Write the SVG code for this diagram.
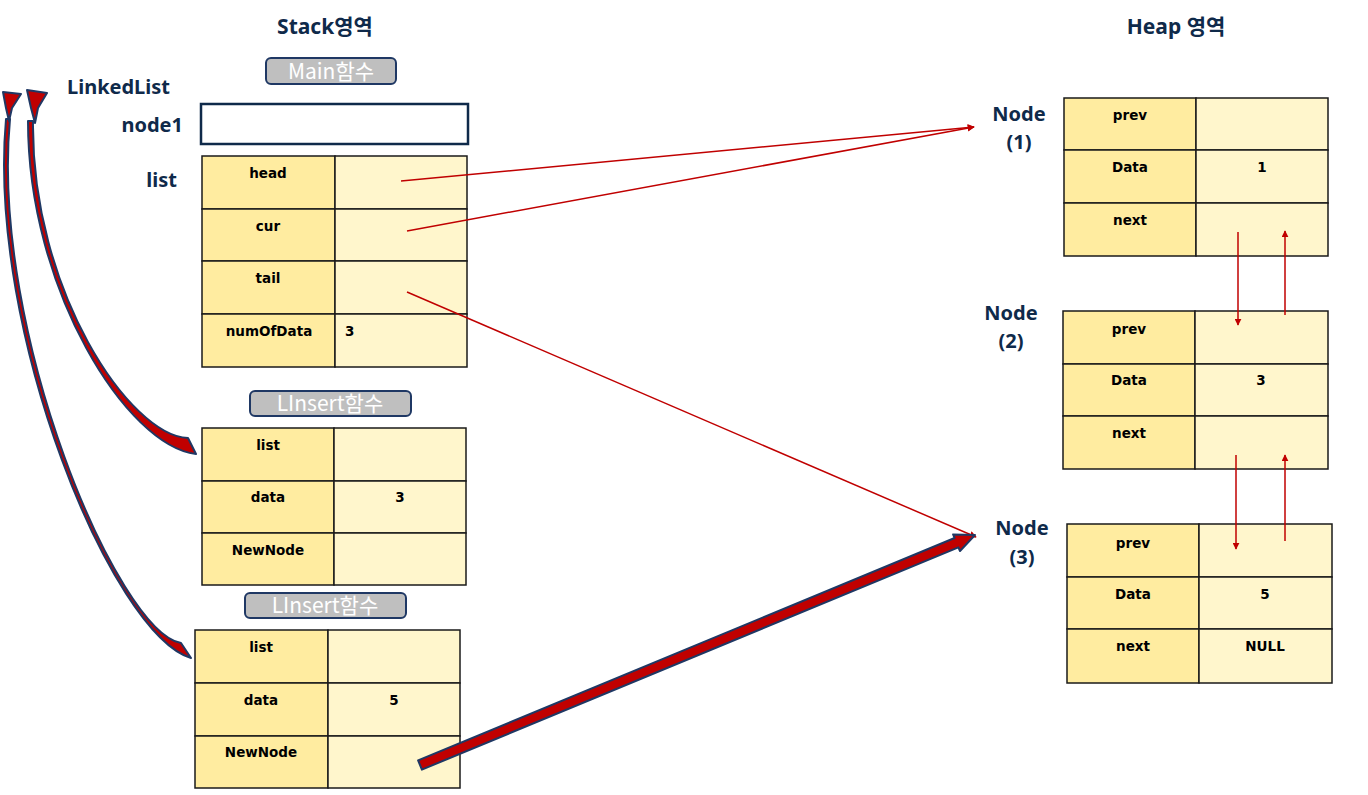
<svg xmlns="http://www.w3.org/2000/svg" width="1368" height="795" viewBox="0 0 1368 795">
<defs>
<style>
.hd{font-family:"Noto Sans","Noto Sans CJK KR",sans-serif;font-weight:bold;font-size:20px;fill:#0f2a4a}
.hh{font-size:21px}
.fn{font-family:"Noto Sans CJK KR","Noto Sans",sans-serif;font-size:21px;fill:#ffffff;text-anchor:middle}
.pill{fill:#bfbfbf;stroke:#1f3864;stroke-width:2}
.k{fill:#ffeca0;stroke:#1a1a1a;stroke-width:1.5}
.v{fill:#fff6cc;stroke:#1a1a1a;stroke-width:1.5}
.t{font-family:"DejaVu Sans",sans-serif;font-weight:bold;font-size:13.5px;fill:#000;text-anchor:middle}
.tl{font-family:"DejaVu Sans",sans-serif;font-weight:bold;font-size:13.5px;fill:#000}
.ln{stroke:#c00000;stroke-width:1.5;fill:none;marker-end:url(#ah)}
.blk{fill:#c00000;stroke:#1f3864;stroke-width:2;stroke-linejoin:round}
</style>
<marker id="ah" viewBox="0 0 10 10" refX="9" refY="5" markerWidth="7" markerHeight="7" orient="auto" markerUnits="userSpaceOnUse">
<path d="M0,0 L10,5 L0,10 Z" fill="#c00000"/>
</marker>
</defs>
<rect width="1368" height="795" fill="#ffffff"/>

<g id="headers">
<text class="hd hh" x="325" y="34" text-anchor="middle">Stack영역</text>
<text class="hd hh" x="1176" y="34" text-anchor="middle">Heap 영역</text>
<text class="hd" x="170" y="94" text-anchor="end">LinkedList</text>
<text class="hd" x="183" y="132" text-anchor="end">node1</text>
<text class="hd" x="177" y="187" text-anchor="end">list</text>
</g>

<g id="main-label">
<rect class="pill" x="266" y="58" width="130" height="26" rx="5"/>
<text class="fn" x="331" y="79">Main함수</text>
</g>

<g id="node1-box">
<rect x="201" y="104" width="267" height="40" fill="#ffffff" stroke="#0f2a4a" stroke-width="2.5"/>
</g>

<g id="main-list">
<rect class="k" x="202" y="156" width="133" height="53"/><rect class="v" x="335" y="156" width="132" height="53"/>
<rect class="k" x="202" y="209" width="133" height="52"/><rect class="v" x="335" y="209" width="132" height="52"/>
<rect class="k" x="202" y="261" width="133" height="53"/><rect class="v" x="335" y="261" width="132" height="53"/>
<rect class="k" x="202" y="314" width="133" height="53"/><rect class="v" x="335" y="314" width="132" height="53"/>
<text class="t" x="268" y="178">head</text>
<text class="t" x="268" y="231">cur</text>
<text class="t" x="268" y="283">tail</text>
<text class="t" x="269" y="336">numOfData</text>
<text class="tl" x="345" y="336">3</text>
</g>

<g id="linsert1-label">
<rect class="pill" x="250" y="391" width="161" height="25" rx="5"/>
<text class="fn" x="330" y="411">LInsert함수</text>
</g>
<g id="linsert1">
<rect class="k" x="202" y="428" width="132" height="53"/><rect class="v" x="334" y="428" width="132" height="53"/>
<rect class="k" x="202" y="481" width="132" height="52"/><rect class="v" x="334" y="481" width="132" height="52"/>
<rect class="k" x="202" y="533" width="132" height="52"/><rect class="v" x="334" y="533" width="132" height="52"/>
<text class="t" x="268" y="450">list</text>
<text class="t" x="268" y="502">data</text>
<text class="t" x="268" y="555">NewNode</text>
<text class="t" x="400" y="502">3</text>
</g>

<g id="linsert2-label">
<rect class="pill" x="245" y="593" width="161" height="25" rx="5"/>
<text class="fn" x="325" y="613">LInsert함수</text>
</g>
<g id="linsert2">
<rect class="k" x="195" y="630" width="133" height="53"/><rect class="v" x="328" y="630" width="132" height="53"/>
<rect class="k" x="195" y="683" width="133" height="53"/><rect class="v" x="328" y="683" width="132" height="53"/>
<rect class="k" x="195" y="736" width="133" height="52"/><rect class="v" x="328" y="736" width="132" height="52"/>
<text class="t" x="261" y="652">list</text>
<text class="t" x="261" y="705">data</text>
<text class="t" x="261" y="757">NewNode</text>
<text class="t" x="394" y="705">5</text>
</g>

<g id="heap-node1">
<text class="hd" x="1019" y="121" text-anchor="middle">Node</text>
<text class="hd" x="1019" y="149" text-anchor="middle">(1)</text>
<rect class="k" x="1064" y="98" width="132" height="52"/><rect class="v" x="1196" y="98" width="132" height="52"/>
<rect class="k" x="1064" y="150" width="132" height="53"/><rect class="v" x="1196" y="150" width="132" height="53"/>
<rect class="k" x="1064" y="203" width="132" height="53"/><rect class="v" x="1196" y="203" width="132" height="53"/>
<text class="t" x="1130" y="120">prev</text>
<text class="t" x="1130" y="172">Data</text>
<text class="t" x="1130" y="225">next</text>
<text class="t" x="1262" y="172">1</text>
</g>

<g id="heap-node2">
<text class="hd" x="1011" y="320" text-anchor="middle">Node</text>
<text class="hd" x="1011" y="348" text-anchor="middle">(2)</text>
<rect class="k" x="1063" y="311" width="132" height="53"/><rect class="v" x="1195" y="311" width="133" height="53"/>
<rect class="k" x="1063" y="364" width="132" height="52"/><rect class="v" x="1195" y="364" width="133" height="52"/>
<rect class="k" x="1063" y="416" width="132" height="53"/><rect class="v" x="1195" y="416" width="133" height="53"/>
<text class="t" x="1129" y="334">prev</text>
<text class="t" x="1129" y="385">Data</text>
<text class="t" x="1129" y="438">next</text>
<text class="t" x="1261" y="385">3</text>
</g>

<g id="heap-node3">
<text class="hd" x="1022" y="535" text-anchor="middle">Node</text>
<text class="hd" x="1022" y="564" text-anchor="middle">(3)</text>
<rect class="k" x="1067" y="524" width="132" height="53"/><rect class="v" x="1199" y="524" width="133" height="53"/>
<rect class="k" x="1067" y="577" width="132" height="52"/><rect class="v" x="1199" y="577" width="133" height="52"/>
<rect class="k" x="1067" y="629" width="132" height="54"/><rect class="v" x="1199" y="629" width="133" height="54"/>
<text class="t" x="1133" y="548">prev</text>
<text class="t" x="1133" y="599">Data</text>
<text class="t" x="1133" y="651">next</text>
<text class="t" x="1265" y="599">5</text>
<text class="t" x="1265" y="651">NULL</text>
</g>

<g id="connectors">
<line class="ln" x1="401" y1="181" x2="974" y2="127"/>
<line class="ln" x1="407" y1="231" x2="974" y2="127"/>
<line class="ln" x1="407" y1="292" x2="976" y2="537"/>
<line class="ln" x1="1238" y1="232" x2="1238" y2="325"/>
<line class="ln" x1="1285" y1="315" x2="1285" y2="231"/>
<line class="ln" x1="1236" y1="455" x2="1236" y2="549"/>
<line class="ln" x1="1285" y1="541" x2="1285" y2="455"/>
<polygon class="blk" points="421.9,769.6 418.1,760.4 954.6,538.0 953.1,534.4 975,535 960,551 958.4,547.3"/>
<path class="blk" d="M33,121 C31,290 130,436 188,438 L196,454 C127,446 28,290 28,121 Z"/>
<polygon class="blk" points="27,90 47,93 38,108 35,123 31,108"/>
<path class="blk" d="M10,119 C-10,332 118,632 181,643 L191,658 C112,634 -13,332 6,119 Z"/>
<polygon class="blk" points="3,92 21,94 12,108 9,121 6,108"/>
</g>
</svg>
